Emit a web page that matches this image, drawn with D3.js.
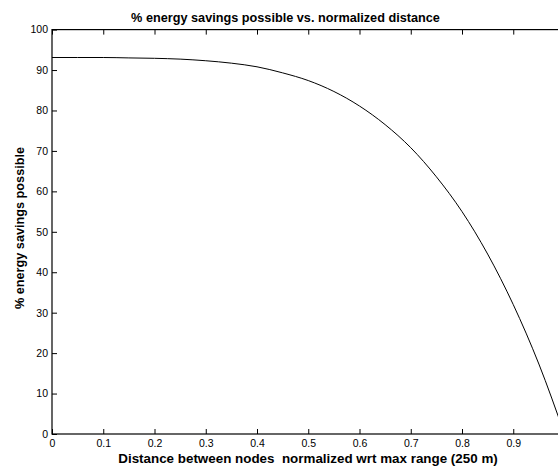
<!DOCTYPE html>
<html>
<head>
<meta charset="utf-8">
<script src="https://cdn.jsdelivr.net/npm/d3@7"></script>
<style>
body { margin: 0; background: #fff; }
text { font-family: "Liberation Sans", Arial, sans-serif; fill: #000; }
</style>
</head>
<body>
<div id="chart"></div>
<script>
// data
var distance = [0, 0.05, 0.1, 0.15, 0.2, 0.25, 0.3, 0.35, 0.4, 0.45, 0.5,
  0.55, 0.6, 0.65, 0.7, 0.75, 0.8, 0.85, 0.9, 0.95, 1.0];
var savings = [93.1, 93.1, 93.1, 93.0, 92.9, 92.7, 92.3, 91.7, 90.8, 89.3, 87.4,
  84.7, 81.1, 76.5, 70.8, 63.6, 55.0, 44.5, 32.0, 17.3, 0];
var xTicks = [0, 0.1, 0.2, 0.3, 0.4, 0.5, 0.6, 0.7, 0.8, 0.9];
var yTicks = [0, 10, 20, 30, 40, 50, 60, 70, 80, 90, 100];

var width = 558, height = 466;
// plot box (right edge falls outside the picture, it was cropped)
var boxL = 52, boxR = 564.5, boxT = 29.6, boxB = 434;

var svg = d3.select("#chart")
  .append("svg")
  .attr("width", width)
  .attr("height", height);

var x = d3.scaleLinear().domain([0, 1]).range([boxL, boxR]);
var y = d3.scaleLinear().domain([0, 100]).range([boxB, boxT]);

// ticks point inward, like matlab
svg.append("g")
  .attr("transform", "translate(0," + boxB + ")")
  .call(d3.axisBottom(x).tickValues(xTicks).tickSize(-5).tickPadding(6).tickFormat(d3.format("")))
  .call(function(g) { g.select(".domain").remove(); });

svg.append("g")
  .attr("transform", "translate(0," + boxT + ")")
  .call(d3.axisTop(x).tickValues(xTicks).tickSize(-5).tickFormat(""))
  .call(function(g) { g.select(".domain").remove(); });

svg.append("g")
  .attr("transform", "translate(" + boxL + ",0)")
  .call(d3.axisLeft(y).tickValues(yTicks).tickSize(-5).tickPadding(4))
  .call(function(g) { g.select(".domain").remove(); });

svg.selectAll(".tick text")
  .attr("font-size", 10.5)
  .attr("fill", "#222")
  .style("font-family", "'Liberation Sans', Arial, sans-serif");
svg.selectAll(".tick line").attr("stroke", "#000");

// the box
svg.append("rect")
  .attr("x", boxL)
  .attr("y", boxT)
  .attr("width", boxR - boxL)
  .attr("height", boxB - boxT)
  .attr("fill", "none")
  .attr("stroke", "#000")
  .attr("stroke-width", 1.2);

var line = d3.line()
  .x(function(d, i) { return x(distance[i]); })
  .y(function(d) { return y(d); })
  .curve(d3.curveMonotoneX);

svg.append("path")
  .datum(savings)
  .attr("d", line)
  .attr("fill", "none")
  .attr("stroke", "#000")
  .attr("stroke-width", 1);

svg.append("text")
  .attr("x", 285.5)
  .attr("y", 22)
  .attr("text-anchor", "middle")
  .attr("font-size", 12.7)
  .attr("font-weight", "bold")
  .text("% energy savings possible vs. normalized distance");

svg.append("text")
  .attr("x", 308)
  .attr("y", 463)
  .attr("text-anchor", "middle")
  .attr("font-size", 13.4)
  .attr("font-weight", "bold")
  .style("white-space", "pre")
  .text("Distance between nodes  normalized wrt max range (250 m)");

svg.append("text")
  .attr("transform", "translate(24,228) rotate(-90)")
  .attr("text-anchor", "middle")
  .attr("font-size", 12.7)
  .attr("font-weight", "bold")
  .text("% energy savings possible");
</script>
</body>
</html>
